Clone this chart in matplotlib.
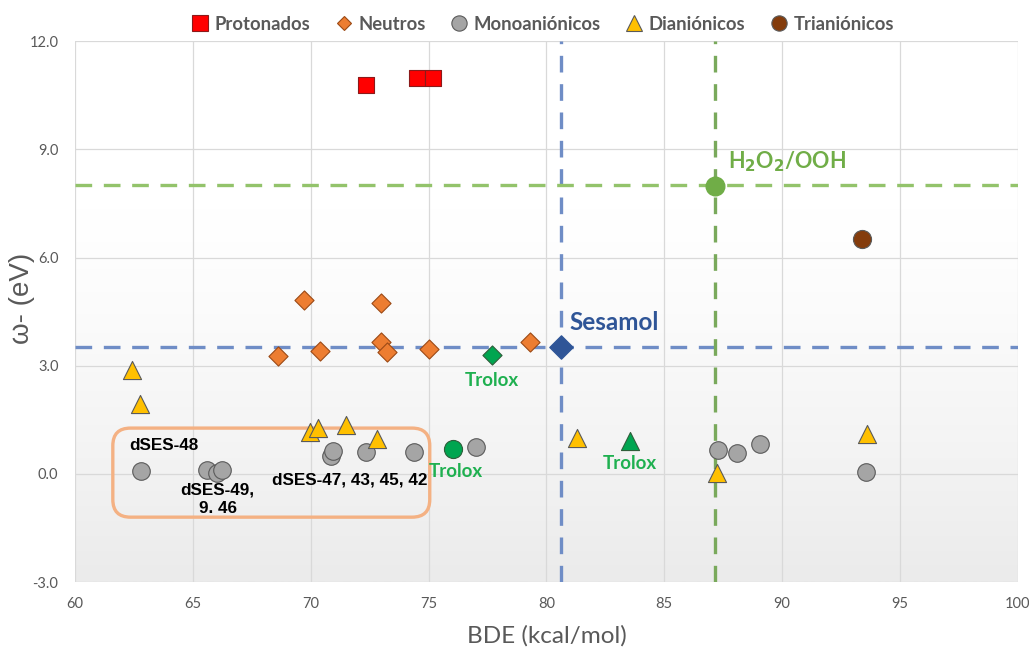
import numpy as np
import matplotlib.pyplot as plt
from matplotlib.patches import FancyBboxPatch
from matplotlib.lines import Line2D

plt.rcParams['font.family'] = ['Lato', 'DejaVu Sans']

# data (BDE kcal/mol, omega- eV)
prot_x = [72.35, 74.5, 75.2]
prot_y = [10.78, 10.97, 10.97]

neut_x = [68.6, 69.7, 70.4, 73.0, 73.0, 73.25, 75.0, 79.3]
neut_y = [3.28, 4.82, 3.41, 4.73, 3.66, 3.39, 3.45, 3.65]

mono_x = [62.8, 65.6, 66.02, 66.25, 70.85, 70.95, 72.35, 74.4, 77.0, 87.3, 88.1, 89.05, 93.55]
mono_y = [0.09, 0.11, 0.02, 0.11, 0.50, 0.63, 0.61, 0.60, 0.74, 0.66, 0.59, 0.83, 0.05]

dian_x = [62.4, 62.75, 69.95, 70.3, 71.5, 72.8, 81.3, 87.25, 93.6]
dian_y = [2.88, 1.94, 1.15, 1.26, 1.35, 0.98, 0.99, 0.03, 1.12]

trian_x = [93.4]
trian_y = [6.51]

# Trolox references: diamond (neutral), circle (mono), triangle (di)
trolox_x = [77.7, 76.05, 83.55]
trolox_y = [3.29, 0.68, 0.91]

sesamol = (80.6, 3.52)
h2o2 = (87.15, 7.98)

fig = plt.figure(figsize=(10.29, 6.54), dpi=100)
ax = fig.add_axes([0.073, 0.110, 0.916, 0.827])

ax.set_xlim(60, 100)
ax.set_ylim(-3, 12)

# soft white->grey background
grad = np.linspace(0, 1, 256).reshape(-1, 1)
grad = np.clip((grad - 0.3) / 0.7, 0, 1) ** 1.3
ax.imshow(grad, extent=[60, 100, -3, 12], aspect='auto', origin='upper',
          cmap=plt.cm.colors.LinearSegmentedColormap.from_list('bg', ['#ffffff', '#ebebeb']),
          zorder=0)

ax.set_xticks(np.arange(60, 101, 5))
ax.set_yticks(np.arange(-3, 12.1, 3))
ax.set_yticklabels([f'{v:.1f}' for v in np.arange(-3, 12.1, 3)])
ax.grid(True, color='#d9d9d9', linewidth=0.9, zorder=1)
ax.set_axisbelow(True)
for s in ax.spines.values():
    s.set_visible(False)
ax.tick_params(length=0, colors='#595959', labelsize=10.5)
ax.tick_params(axis='x', pad=11)
ax.tick_params(axis='y', pad=12)

# reference lines
ax.axhline(sesamol[1], color='#6f8dc6', lw=2.4, ls=(0, (5, 3.5)), zorder=2)
ax.axvline(sesamol[0], color='#6f8dc6', lw=2.4, ls=(0, (5, 3.5)), zorder=2)
ax.axhline(8.0, color='#93c36b', lw=2.4, ls=(0, (5, 3.5)), zorder=2)
ax.axvline(h2o2[0], color='#79a95b', lw=2.4, ls=(0, (5, 3.5)), zorder=2)

ec = '#5a5a5a'
ax.scatter(prot_x, prot_y, marker='s', s=140, c='#ff0000', edgecolors='#8b1a1a', linewidths=0.8, zorder=4)
ax.scatter(neut_x, neut_y, marker='D', s=95, c='#ed7d31', edgecolors='#9c4a16', linewidths=0.8, zorder=4)
ax.scatter(mono_x, mono_y, marker='o', s=160, c='#a5a5a5', edgecolors=ec, linewidths=0.8, zorder=4)
ax.scatter(dian_x, dian_y, marker='^', s=170, c='#ffc000', edgecolors=ec, linewidths=0.8, zorder=5)
ax.scatter(trian_x, trian_y, marker='o', s=170, c='#843c0c', edgecolors=ec, linewidths=0.8, zorder=4)

ax.scatter(trolox_x[0], trolox_y[0], marker='D', s=95, c='#00a550', edgecolors='#2e5e3a', linewidths=0.8, zorder=4)
ax.scatter(trolox_x[1], trolox_y[1], marker='o', s=170, c='#00a550', edgecolors='#2e5e3a', linewidths=0.8, zorder=4)
ax.scatter(trolox_x[2], trolox_y[2], marker='^', s=170, c='#00a550', edgecolors='#2e5e3a', linewidths=0.8, zorder=4)

ax.scatter(*sesamol, marker='D', s=140, c='#2f5597', zorder=6)
ax.scatter(*h2o2, marker='o', s=180, c='#70ad47', zorder=6)

# labels
ax.text(81.0, 4.2, 'Sesamol', color='#2f5597', fontsize=17.5, fontweight='bold', va='center', ha='left', zorder=7)
ax.text(87.7, 8.65, r'H$_\mathbf{2}$O$_\mathbf{2}$/OOH', color='#70ad47', fontsize=15.5, fontweight='bold',
        va='center', ha='left', zorder=7)

tro_c = '#1fb050'
tro_fs = 13.5
ax.text(77.7, 2.6, 'Trolox', color=tro_c, fontsize=tro_fs, fontweight='bold', ha='center', va='center', zorder=7)
ax.text(76.15, 0.07, 'Trolox', color=tro_c, fontsize=tro_fs, fontweight='bold', ha='center', va='center', zorder=7)
ax.text(83.55, 0.3, 'Trolox', color=tro_c, fontsize=tro_fs, fontweight='bold', ha='center', va='center', zorder=7)

lab_font = ['Liberation Sans', 'DejaVu Sans']
ax.text(62.3, 0.8, 'dSES-48', color='black', fontsize=12.3, fontweight='bold', ha='left', va='center',
        family=lab_font, zorder=7)
ax.text(66.05, -0.7, 'dSES-49,\n9. 46', color='black', fontsize=12.3, fontweight='bold', ha='center', va='center',
        linespacing=1.3, family=lab_font, zorder=7)
ax.text(71.65, -0.17, 'dSES-47, 43, 45, 42', color='black', fontsize=12.3, fontweight='bold', ha='center',
        va='center', family=lab_font, zorder=7)

# rounded box around the dSES group
box = FancyBboxPatch((61.6, -1.2), 13.45, 2.47,
                     boxstyle='round,pad=0,rounding_size=0.75', mutation_aspect=0.65,
                     fill=False, edgecolor='#f4b183', linewidth=2.4, zorder=3)
ax.add_patch(box)

ax.set_xlabel('BDE (kcal/mol)', fontsize=17.5, color='#595959', labelpad=10)
fig.text(22 / 1029, 1 - 298 / 654, 'ω- (eV)', rotation=90, ha='center', va='center',
         fontsize=20, color='#595959', family=lab_font)

handles = [
    Line2D([], [], ls='', marker='s', ms=11, mfc='#ff0000', mec='#8b1a1a', mew=0.8),
    Line2D([], [], ls='', marker='D', ms=7, mfc='#ed7d31', mec='#9c4a16', mew=0.8),
    Line2D([], [], ls='', marker='o', ms=11, mfc='#a5a5a5', mec=ec, mew=0.8),
    Line2D([], [], ls='', marker='^', ms=11, mfc='#ffc000', mec=ec, mew=0.8),
    Line2D([], [], ls='', marker='o', ms=11, mfc='#843c0c', mec=ec, mew=0.8),
]
labels = ['Protonados', 'Neutros', 'Monoaniónicos', 'Dianiónicos', 'Trianiónicos']
leg = fig.legend(handles, labels, loc='center', bbox_to_anchor=(0.527, 0.963), ncol=5, frameon=False,
                 handletextpad=0.3, columnspacing=1.3, handlelength=1.0,
                 prop={'size': 13.3, 'weight': 'bold'})
for t in leg.get_texts():
    t.set_color('#595959')

fig.savefig('out.png', dpi=100)
